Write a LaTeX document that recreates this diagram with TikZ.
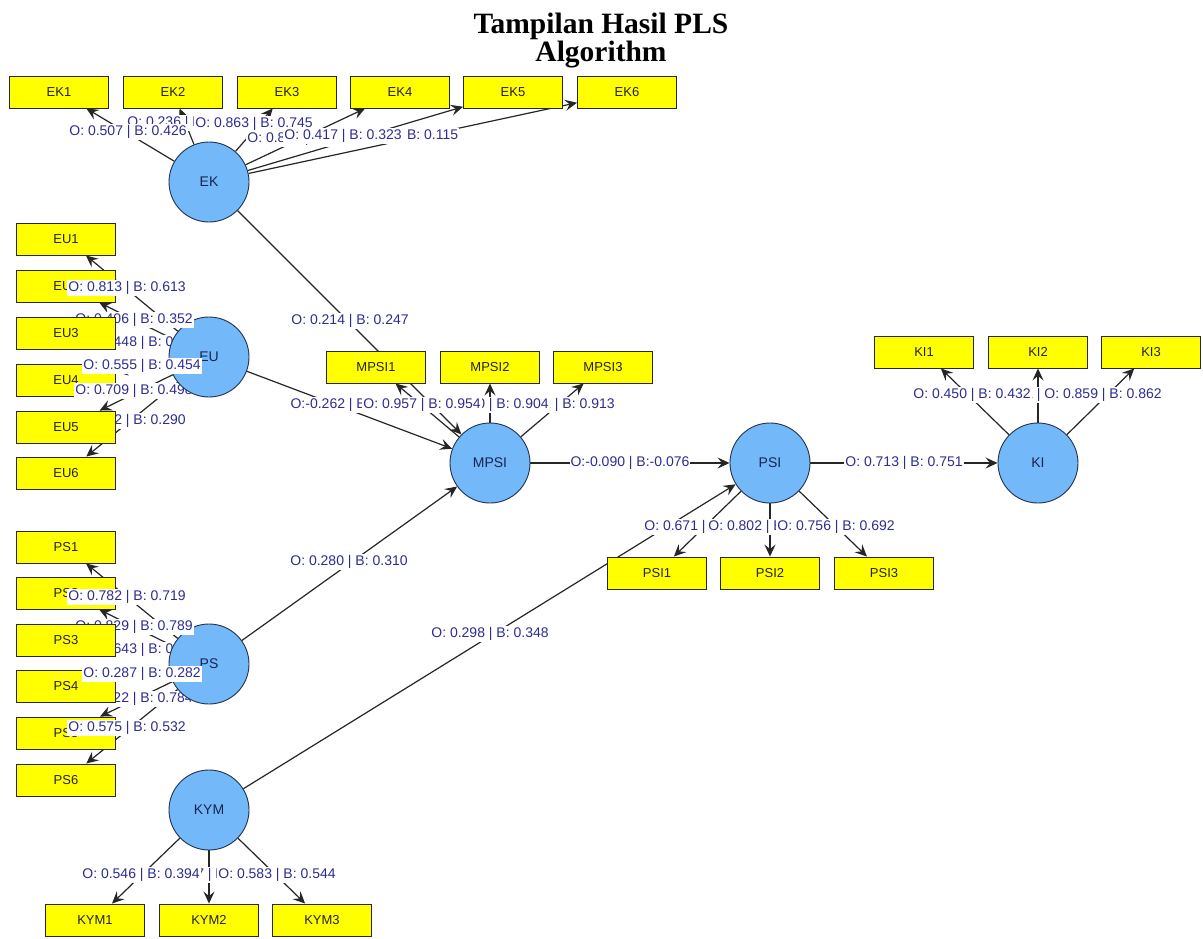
\documentclass[tikz,border=0pt]{standalone}
\usepackage{fontspec}
\setmainfont{Liberation Serif}
\setsansfont{Liberation Sans}
\usetikzlibrary{arrows.meta}
\definecolor{lvblue}{RGB}{115,185,250}
\definecolor{lvborder}{RGB}{35,50,80}
\definecolor{lvtext}{RGB}{25,35,80}
\definecolor{boxyellow}{RGB}{255,255,0}
\definecolor{boxborder}{RGB}{40,40,40}
\definecolor{boxtext}{RGB}{35,35,35}
\definecolor{labblue}{RGB}{45,45,145}
\pgfdeclarelayer{edges}
\pgfdeclarelayer{boxlow}
\pgfdeclarelayer{lablow}
\pgfdeclarelayer{circ}
\pgfdeclarelayer{labmid}
\pgfdeclarelayer{boxhigh}
\pgfdeclarelayer{labtop}
\pgfsetlayers{edges,boxlow,lablow,circ,labmid,boxhigh,labtop,main}
\tikzset{
  ind/.style={draw=boxborder, fill=boxyellow, minimum width=99pt, minimum height=32pt, inner sep=0pt, line width=0.9pt, text=boxtext, font=\sffamily\fontsize{13}{13}\selectfont},
  lv/.style={circle, draw=lvborder, fill=lvblue, minimum size=80pt, inner sep=0pt, line width=0.9pt, text=lvtext, font=\sffamily\fontsize{14}{14}\selectfont},
  lab/.style={fill=white, inner xsep=1pt, inner ysep=1.5pt, text=labblue, font=\sffamily\fontsize{14}{14}\selectfont},
  conn/.style={draw=black!85, line width=1.2pt, -{Stealth[length=12pt,width=11pt,inset=4.5pt]}},
  ttl/.style={anchor=base, inner sep=0pt, font=\rmfamily\bfseries\fontsize{29.5}{29.5}\selectfont}
}
\begin{document}
\begin{tikzpicture}[x=1pt,y=-1pt]
% ---------- latent variables ----------
\begin{pgfonlayer}{circ}
\node[lv] (EK) at (209,182) {EK};
\node[lv] (EU) at (209,357) {EU};
\node[lv] (PS) at (209,664) {PS};
\node[lv] (KYM) at (209,810) {KYM};
\node[lv] (MPSI) at (490,463) {MPSI};
\node[lv] (PSI) at (770,463) {PSI};
\node[lv] (KI) at (1038,463) {KI};
\end{pgfonlayer}
% ---------- indicators (lower layer) ----------
\begin{pgfonlayer}{boxlow}
\node[ind] (EK1) at (59,92) {EK1};
\node[ind] (EK2) at (173,92) {EK2};
\node[ind] (EK3) at (287,92) {EK3};
\node[ind] (EK4) at (400,92) {EK4};
\node[ind] (EK5) at (513,92) {EK5};
\node[ind] (EK6) at (627,92) {EK6};
\node[ind] (EU1) at (66,239) {EU1};
\node[ind] (EU2) at (66,286) {EU2};
\node[ind] (EU4) at (66,380) {EU4};
\node[ind] (EU6) at (66,473) {EU6};
\node[ind] (PS1) at (66,547) {PS1};
\node[ind] (PS2) at (66,593) {PS2};
\node[ind] (PS5) at (66,733) {PS5};
\node[ind] (PS6) at (66,780) {PS6};
\node[ind] (MPSI1) at (376,367) {MPSI1};
\node[ind] (MPSI2) at (490,367) {MPSI2};
\node[ind] (MPSI3) at (603,367) {MPSI3};
\node[ind] (PSI1) at (657,573) {PSI1};
\node[ind] (PSI2) at (770,573) {PSI2};
\node[ind] (PSI3) at (884,573) {PSI3};
\node[ind] (KI1) at (924,352) {KI1};
\node[ind] (KI2) at (1038,352) {KI2};
\node[ind] (KI3) at (1151,352) {KI3};
\node[ind] (KYM1) at (95,920) {KYM1};
\node[ind] (KYM2) at (209,920) {KYM2};
\node[ind] (KYM3) at (322,920) {KYM3};
\end{pgfonlayer}
% ---------- indicators (upper layer) ----------
\begin{pgfonlayer}{boxhigh}
\node[ind] (EU3) at (66,333) {EU3};
\node[ind] (EU5) at (66,427) {EU5};
\node[ind] (PS3) at (66,640) {PS3};
\node[ind] (PS4) at (66,686) {PS4};
\end{pgfonlayer}
% ---------- connectors ----------
\begin{pgfonlayer}{edges}
\path[use as bounding box, fill=white] (0,0) rectangle (1203,938);
\draw[conn] (EK) -- (EK1);
\draw[conn] (EK) -- (EK2);
\draw[conn] (EK) -- (EK3);
\draw[conn] (EK) -- (EK4);
\draw[conn] (EK) -- (EK5);
\draw[conn] (EK) -- (EK6);
\draw[conn] (EU) -- (EU1);
\draw[conn] (EU) -- (EU2);
\draw[conn] (EU) -- (EU3);
\draw[conn] (EU) -- (EU4);
\draw[conn] (EU) -- (EU5);
\draw[conn] (EU) -- (EU6);
\draw[conn] (PS) -- (PS1);
\draw[conn] (PS) -- (PS2);
\draw[conn] (PS) -- (PS3);
\draw[conn] (PS) -- (PS4);
\draw[conn] (PS) -- (PS5);
\draw[conn] (PS) -- (PS6);
\draw[conn] (MPSI) -- (MPSI1);
\draw[conn] (MPSI) -- (MPSI2);
\draw[conn] (MPSI) -- (MPSI3);
\draw[conn] (PSI) -- (PSI1);
\draw[conn] (PSI) -- (PSI2);
\draw[conn] (PSI) -- (PSI3);
\draw[conn] (KI) -- (KI1);
\draw[conn] (KI) -- (KI2);
\draw[conn] (KI) -- (KI3);
\draw[conn] (KYM) -- (KYM1);
\draw[conn] (KYM) -- (KYM2);
\draw[conn] (KYM) -- (KYM3);
\draw[conn] (EK) -- (MPSI);
\draw[conn] (EU) -- (MPSI);
\draw[conn] (PS) -- (MPSI);
\draw[conn] (MPSI) -- (PSI);
\draw[conn] (KYM) -- (PSI);
\draw[conn] (PSI) -- (KI);
\end{pgfonlayer}
% ---------- labels beneath circles ----------
\begin{pgfonlayer}{lablow}
\node[lab] (lEU3) at (142,343) {O: 0.448 | B: 0.391};
\node[lab] (lEU5) at (134,391) {O: 0.709 | B: 0.498};
\node[lab] (lEU6) at (127,421) {O: 0.412 | B: 0.290};
\node[lab] (lPS3) at (142,650) {O: 0.643 | B: 0.604};
\node[lab] (lPS5) at (134,699) {O: 0.822 | B: 0.784};
\end{pgfonlayer}
\begin{pgfonlayer}{labmid}
\node[lab] (lEU2) at (134,320) {O: 0.406 | B: 0.352};
\node[lab] (lPS2) at (134,627) {O: 0.829 | B: 0.789};
\end{pgfonlayer}
% ---------- labels on top ----------
\begin{pgfonlayer}{labtop}
\node[lab] (lEK2) at (186,123) {O: 0.236 | B: 0.183};
\node[lab] (lEK4) at (306,139) {O: 0.851 | B: 0.806};
\node[lab] (lEK6) at (400,136) {O: 0.104 | B: 0.115};
\node[lab] (lEK1) at (128,132) {O: 0.507 | B: 0.426};
\node[lab] (lEK3) at (254,124) {O: 0.863 | B: 0.745};
\node[lab] (lEK5) at (343,136) {O: 0.417 | B: 0.323};
\node[lab] (lEU1) at (127,288) {O: 0.813 | B: 0.613};
\node[lab] (lEU4) at (142,366) {O: 0.555 | B: 0.454};
\node[lab] (lPS1) at (127,597) {O: 0.782 | B: 0.719};
\node[lab] (lPS4) at (142,674) {O: 0.287 | B: 0.282};
\node[lab] (lPS6) at (127,728) {O: 0.575 | B: 0.532};
\node[lab] (lEKM) at (350,321) {O: 0.214 | B: 0.247};
\node[lab] (lPSM) at (349,562) {O: 0.280 | B: 0.310};
\node[lab] (lEUM) at (350,405) {O:-0.262 | B:-0.251};
\node[lab] (lMPSI3) at (556,405) {O: 0.912 | B: 0.913};
\node[lab] (lMPSI2) at (490,405) {O: 0.930 | B: 0.904};
\node[lab] (lMPSI1) at (422,405) {O: 0.957 | B: 0.954};
\node[lab] (lMP) at (630,463) {O:-0.090 | B:-0.076};
\node[lab] (lKYP) at (490,634) {O: 0.298 | B: 0.348};
\node[lab] (lPK) at (904,463) {O: 0.713 | B: 0.751};
\node[lab] (lPSI1) at (703,527) {O: 0.671 | B: 0.655};
\node[lab] (lPSI2) at (767,527) {O: 0.802 | B: 0.818};
\node[lab] (lPSI3) at (836,527) {O: 0.756 | B: 0.692};
\node[lab] (lKI2) at (1038,395) {O: 0.891 | B: 0.893};
\node[lab] (lKI1) at (972,395) {O: 0.450 | B: 0.432};
\node[lab] (lKI3) at (1103,395) {O: 0.859 | B: 0.862};
\node[lab] (lKYM2) at (209,875) {O: 0.777 | B: 0.761};
\node[lab] (lKYM1) at (141,875) {O: 0.546 | B: 0.394};
\node[lab] (lKYM3) at (277,875) {O: 0.583 | B: 0.544};
\end{pgfonlayer}
% ---------- title ----------
\node[ttl] (title1) at (601,33) {Tampilan Hasil PLS};
\node[ttl] (title2) at (601,61) {Algorithm};
\end{tikzpicture}
\end{document}
